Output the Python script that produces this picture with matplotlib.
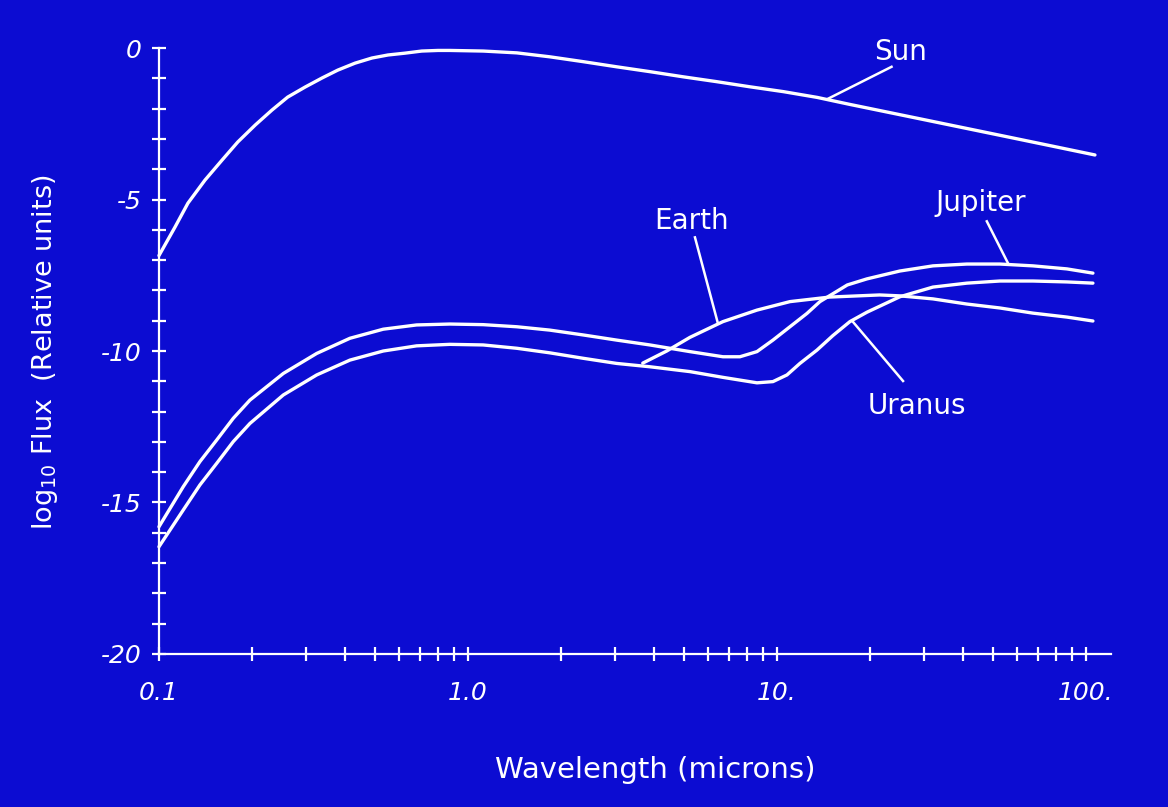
import matplotlib
matplotlib.use("Agg")
import matplotlib.pyplot as plt
from matplotlib.ticker import FixedLocator, FixedFormatter, NullFormatter

# colours
BG = "#0c0cd2"
FG = "white"

# --- data (wavelength in microns, log10 flux) ---
sun_wl = [0.1, 0.1127, 0.1241, 0.1409, 0.160, 0.180, 0.205, 0.232, 0.261,
          0.297, 0.337, 0.379, 0.431, 0.489, 0.551, 0.625, 0.709, 0.800,
          0.874, 1.12, 1.44, 1.84, 2.36, 3.03, 3.88, 4.97, 6.38, 8.18, 10.5,
          13.5, 17.2, 25.0, 36.3, 52.7, 76.4, 107.0]
sun_flux = [-6.85, -5.91, -5.12, -4.36, -3.70, -3.10, -2.54, -2.05, -1.62,
            -1.29, -0.99, -0.73, -0.50, -0.33, -0.23, -0.17, -0.10, -0.08,
            -0.08, -0.10, -0.16, -0.29, -0.45, -0.62, -0.78, -0.95, -1.11,
            -1.28, -1.44, -1.63, -1.86, -2.20, -2.54, -2.88, -3.22, -3.53]

jup_wl = [0.1, 0.1198, 0.1357, 0.1537, 0.174, 0.197, 0.2527, 0.324, 0.415,
          0.532, 0.682, 0.874, 1.12, 1.44, 1.84, 2.36, 3.03, 3.88, 5.23,
          6.69, 7.59, 8.62, 9.71, 11.02, 12.51, 13.78, 16.9, 19.56, 25.0,
          32.0, 41.2, 52.7, 67.4, 86.8, 105.4]
jup_flux = [-15.80, -14.48, -13.65, -12.94, -12.22, -11.62, -10.74, -10.08,
            -9.58, -9.28, -9.14, -9.11, -9.13, -9.20, -9.31, -9.47, -9.64,
            -9.80, -10.02, -10.19, -10.19, -10.02, -9.64, -9.20, -8.76, -8.37,
            -7.82, -7.62, -7.36, -7.19, -7.13, -7.13, -7.19, -7.29, -7.43]

ura_wl = [0.1, 0.1198, 0.1357, 0.1537, 0.174, 0.197, 0.2527, 0.324, 0.415,
          0.532, 0.682, 0.874, 1.12, 1.44, 1.84, 2.36, 3.03, 3.88, 5.23,
          6.69, 8.62, 9.71, 10.78, 11.87, 13.48, 15.18, 17.23, 19.56, 25.0,
          32.0, 41.2, 52.7, 67.4, 86.8, 105.4]
ura_flux = [-16.46, -15.25, -14.42, -13.71, -12.99, -12.39, -11.45, -10.79,
            -10.30, -10.00, -9.83, -9.78, -9.80, -9.91, -10.06, -10.24,
            -10.41, -10.52, -10.68, -10.87, -11.05, -11.01, -10.79, -10.41,
            -9.97, -9.49, -9.03, -8.72, -8.21, -7.89, -7.76, -7.69, -7.69,
            -7.72, -7.76]

earth_wl = [3.68, 4.4, 5.23, 6.69, 8.62, 11.02, 14.8, 21.5, 25.0, 32.0,
            41.2, 52.7, 67.4, 86.8, 105.4]
earth_flux = [-10.40, -10.0, -9.55, -9.03, -8.65, -8.37, -8.22, -8.15, -8.18,
              -8.28, -8.45, -8.58, -8.75, -8.88, -9.01]

x_major = [0.1, 1.0, 10.0, 100.0]
x_labels = ["0.1", "1.0", "10.", "100."]
y_major = [0, -5, -10, -15, -20]
y_labels = ["0", "-5", "-10", "-15", "-20"]

# curve labels: (text, text position, leader line start, leader line end)
labels = [
    ("Sun", (25.2, -0.13), (23.5, -0.62), (14.6, -1.68)),
    ("Earth", (5.31, -5.72), (5.43, -6.25), (6.44, -9.08)),
    ("Jupiter", (45.7, -5.10), (47.8, -5.72), (55.9, -7.09)),
    ("Uranus", (28.4, -11.81), (25.6, -10.99), (17.5, -9.0)),
]

FONT = "DejaVu Sans"
plt.rcParams["font.family"] = FONT

fig = plt.figure(figsize=(11.68, 8.07), dpi=100, facecolor=BG)
ax = fig.add_axes([0.1361, 0.1896, 0.815, 0.7509])
ax.set_facecolor(BG)

lw = 2.4
for wl, fl in [(sun_wl, sun_flux), (jup_wl, jup_flux), (ura_wl, ura_flux),
               (earth_wl, earth_flux)]:
    ax.plot(wl, fl, color=FG, lw=lw, solid_capstyle="round",
            solid_joinstyle="round", clip_on=False)

for txt, tpos, l0, l1 in labels:
    ax.text(tpos[0], tpos[1], txt, color=FG, fontsize=20, ha="center",
            va="center")
    ax.plot([l0[0], l1[0]], [l0[1], l1[1]], color=FG, lw=1.8)

ax.set_xscale("log")
ax.set_xlim(0.1, 120.5)
ax.set_ylim(-20, 0)

ax.xaxis.set_major_locator(FixedLocator(x_major))
ax.xaxis.set_major_formatter(FixedFormatter(x_labels))
minor_x = [m * d for d in (0.1, 1.0, 10.0) for m in range(2, 10)]
ax.xaxis.set_minor_locator(FixedLocator(minor_x))
ax.xaxis.set_minor_formatter(NullFormatter())

ax.yaxis.set_major_locator(FixedLocator(y_major))
ax.yaxis.set_major_formatter(FixedFormatter(y_labels))
ax.yaxis.set_minor_locator(FixedLocator(list(range(-20, 1))))

for s in ["top", "right"]:
    ax.spines[s].set_visible(False)
for s in ["left", "bottom"]:
    ax.spines[s].set_color(FG)
    ax.spines[s].set_linewidth(1.6)

ax.tick_params(which="both", direction="inout", length=9.5, width=1.6,
               color=FG, labelcolor=FG, labelsize=18)
ax.tick_params(axis="x", which="major", pad=15)
ax.tick_params(axis="y", which="major", pad=8)
for lbl in ax.get_xticklabels() + ax.get_yticklabels():
    lbl.set_style("italic")

fig.text(0.561, 1 - 770 / 807, "Wavelength (microns)", color=FG, fontsize=21,
         ha="center", va="center")
fig.text(45 / 1168, 1 - 352 / 807,
         r"log$\mathregular{_{10}}$ Flux  (Relative units)", color=FG,
         fontsize=19.5, ha="center", va="center", rotation=90)

fig.savefig("out.png", dpi=100, facecolor=BG)
